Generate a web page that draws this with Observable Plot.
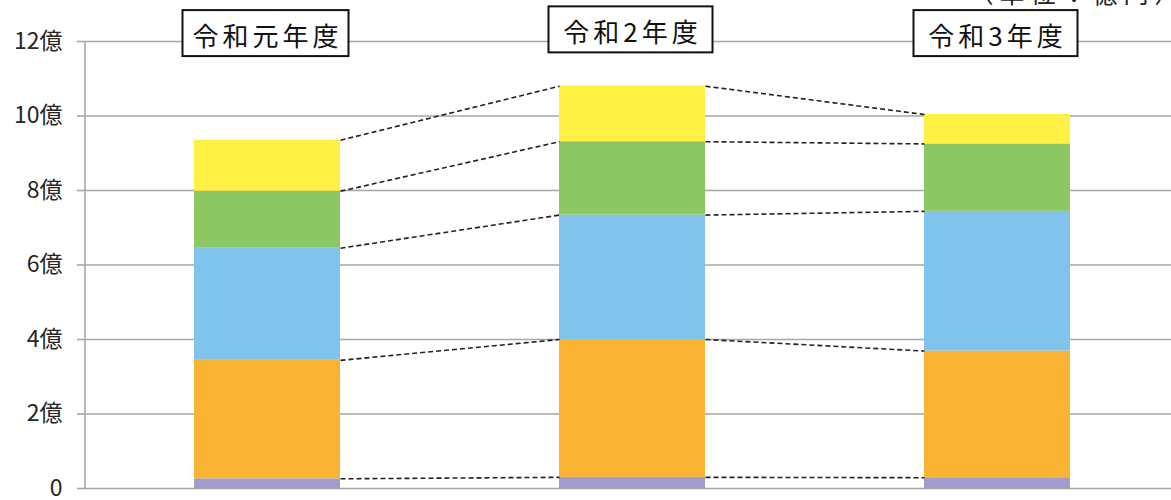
<!DOCTYPE html>
<html><head><meta charset="utf-8">
<script src="https://cdn.jsdelivr.net/npm/d3@7"></script>
<script src="https://cdn.jsdelivr.net/npm/@observablehq/plot@0.6"></script>
<style>
body{margin:0;background:#fff;}
#chart svg{font-family:"Noto Sans CJK JP","Noto Sans",sans-serif;}
</style>
</head><body><div id="chart"></div>
<script>
// Data (単位：億円)
const years = ["令和元年度", "令和2年度", "令和3年度"];
const categories = ["区分A", "区分B", "区分C", "区分D", "区分E"]; // bottom to top
const seriesA = [0.26, 0.30, 0.29];   // purple
const seriesB = [3.18, 3.70, 3.40];   // orange
const seriesC = [3.01, 3.34, 3.75];   // blue
const seriesD = [1.53, 1.97, 1.81];   // green
const seriesE = [1.37, 1.49, 0.79];   // yellow
const yTicks = [0, 2, 4, 6, 8, 10, 12];
const yTickLabels = ["0", "2億", "4億", "6億", "8億", "10億", "12億"];
const titleY = [12.1, 12.2, 12.1];
const unitLabel = ["（単位：億円）"];
const colors = ["#A59BCB", "#FBB334", "#80C3EC", "#8CC764", "#FFF143"];

const series = [seriesA, seriesB, seriesC, seriesD, seriesE];
const half = 0.2;
const rows = [];
years.forEach((yr, i) => {
  let acc = 0;
  series.forEach((s, k) => {
    rows.push({i, year: yr, cat: categories[k], y1: acc, y2: acc + s[i]});
    acc += s[i];
  });
});
const segTop = (i, k) => rows.find(r => r.i === i && r.cat === categories[k]).y2;
const links = [];
for (let i = 0; i < years.length - 1; i++) {
  for (let k = 0; k < categories.length; k++) {
    links.push({x1: i + half, x2: i + 1 - half, y1: segTop(i, k), y2: segTop(i + 1, k)});
  }
}

const plot = Plot.plot({
  width: 1171, height: 500,
  marginLeft: 85, marginRight: 0, marginTop: 41, marginBottom: 12,
  x: {domain: [-0.5, 2.5], range: [84.5, 1179.5], axis: null},
  y: {domain: [0, 12], axis: null},
  color: {domain: categories, range: colors},
  marks: [
    Plot.ruleY(yTicks, {stroke: "#A6A6A6", strokeWidth: 1.6}),
    Plot.axisY(yTicks, {anchor: "left", tickSize: 8, tickPadding: 15, stroke: "#A6A6A6", strokeWidth: 1.6,
      color: "#262626", fontSize: 23, tickFormat: d => yTickLabels[yTicks.indexOf(d)], label: null}),
    Plot.ruleX([-0.5], {y1: 0, y2: 12, stroke: "#A6A6A6", strokeWidth: 1.6}),
    Plot.rect(rows, {x1: d => d.i - half, x2: d => d.i + half, y1: "y1", y2: "y2", fill: "cat"}),
    Plot.link(links, {x1: "x1", x2: "x2", y1: "y1", y2: "y2", stroke: "#222", strokeWidth: 1.6, strokeDasharray: "5,3"}),
    Plot.text(years, {x: (d, i) => i, y: (d, i) => titleY[i], text: d => d, fontSize: 26, fill: "#111"}),
    Plot.text(unitLabel, {frameAnchor: "top-right", text: d => d, textAnchor: "end", lineAnchor: "bottom",
      dx: 14, dy: -39, fontSize: 25, fill: "#222"})
  ]
});
document.getElementById("chart").appendChild(plot);

const svg = d3.select(plot);
// letter spacing for unit label
svg.selectAll("text").filter(function() { return unitLabel.includes(this.textContent); })
  .style("letter-spacing", "6px");
// Draw boxes around the year titles
svg.selectAll("text").filter(function() { return years.includes(this.textContent); }).each(function() {
  d3.select(this).style("letter-spacing", "4px");
  const b = this.getBBox();
  const minW = 164, padY = 7;
  const w = Math.max(b.width + 16, minW);
  const cx = b.x + (b.width - 4) / 2;
  const r = d3.select(this.parentNode).insert("rect", () => this)
    .attr("x", cx - w / 2).attr("y", b.y - padY + 1)
    .attr("width", w).attr("height", b.height + 2 * padY - 5)
    .attr("fill", "white").attr("stroke", "#111").attr("stroke-width", 2);
  const tr = this.getAttribute("transform");
  if (tr) r.attr("transform", tr);
});
</script>
</body></html>
